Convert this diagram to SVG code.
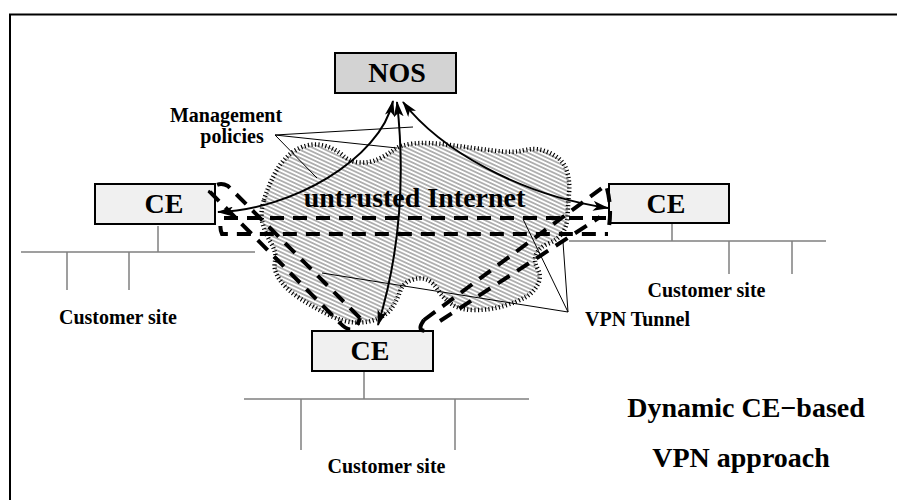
<svg xmlns="http://www.w3.org/2000/svg" width="897" height="500" viewBox="0 0 897 500">
<style>
.t{font-family:"Liberation Serif","Times New Roman",serif;font-weight:bold;fill:#000}
.big{font-size:28px}
.sm{font-size:20px}
.box{stroke:#000;stroke-width:2}
.lan{stroke:#808080;stroke-width:1.5;fill:none}
.ptr{stroke:#000;stroke-width:1;fill:none}
.arr{stroke:#000;stroke-width:2;fill:none;marker-start:url(#ah);marker-end:url(#ah)}
.tun{stroke:#000;stroke-width:4;fill:none;stroke-dasharray:14 9}
</style>
<defs>
<pattern id="hatch" width="8" height="3.6" patternUnits="userSpaceOnUse" patternTransform="rotate(25)">
<line x1="0" y1="1.8" x2="8" y2="1.8" stroke="#000" stroke-width="0.6"/>
</pattern>
<marker id="ah" viewBox="0 0 16 10" refX="15" refY="5" markerWidth="16" markerHeight="10" markerUnits="userSpaceOnUse" orient="auto-start-reverse">
<path d="M0,0 L16,5 L0,10 L4,5 z" fill="#000"/>
</marker>
</defs>
<rect x="0" y="0" width="897" height="500" fill="#fff"/>
<rect x="10" y="14.5" width="900" height="500" fill="none" stroke="#000" stroke-width="2"/>

<g id="cloud">
<path d="M264,200 Q268,187 274,175 Q280,163 288.5,155.5 Q297,148 307,145.5 Q317,143 327,146.5 Q337,150 343.5,156 Q350,162 360,162.5 Q370,163 378.5,159 Q387,155 393.5,150 Q400,145 413.5,143.5 Q427,142 450,145 Q473,148 493,150.5 Q513,153 523,150.5 Q533,148 541.5,150 Q550,152 557.5,157.5 Q565,163 567.5,173 Q570,183 569,194 Q568,205 567.5,216 Q567,227 562,233.5 Q557,240 548.5,243.5 Q540,247 536.5,253.5 Q533,260 537.5,268.5 Q542,277 537.5,285 Q533,293 525,297.5 Q517,302 503.5,306 Q490,310 475,310 Q460,310 451.5,304 Q443,298 438,290 Q433,282 426.5,279.5 Q420,277 411.5,280 Q403,283 400,291.5 Q397,300 392,307.5 Q387,315 377,319 Q367,323 355,322.5 Q343,322 328,314.5 Q313,307 300,298.5 Q287,290 280,280 Q273,270 275,261.5 Q277,253 271,243 Q265,233 262.5,223 Q260,213 264,200 Z" fill="url(#hatch)" stroke="#000" stroke-width="4.5" stroke-dasharray="1.1 2.4"/>
<text class="t big" x="414.5" y="207" text-anchor="middle">untrusted Internet</text>
</g>

<g id="lans">
<path class="lan" d="M21,252 H255 M158,226 V252 M67,252 V290 M129,252 V290"/>
<path class="lan" d="M569,241 H826 M672,224 V241 M729,241 V274 M792,241 V274"/>
<path class="lan" d="M244,399 H529 M364,371 V399 M301,399 V450 M455,399 V450"/>
</g>

<g id="pointers">
<path class="ptr" d="M275,135 L413,127 M275,135 L397,148 M275,135 L317,178"/>
<path class="ptr" d="M568,312 L523,219 M568,312 L563,242 M568,312 L322,273"/>
</g>

<g id="nos">
<rect class="box" x="335" y="53" width="121" height="40" fill="#d3d3d3"/>
<text class="t big" x="397" y="82" text-anchor="middle">NOS</text>
</g>
<g id="ce-left">
<rect class="box" x="95" y="184" width="120" height="40" fill="#f0f0f0"/>
<text class="t big" x="164" y="213" text-anchor="middle">CE</text>
</g>
<g id="ce-right">
<rect class="box" x="609" y="184" width="120" height="39" fill="#f0f0f0"/>
<text class="t big" x="666" y="213" text-anchor="middle">CE</text>
</g>
<g id="ce-bottom">
<rect class="box" x="312" y="331" width="121" height="40" fill="#f0f0f0"/>
<text class="t big" x="370" y="360" text-anchor="middle">CE</text>
</g>

<g id="connectors">
<path class="arr" d="M393,101 C380,160 290,210 218,212"/>
<path class="arr" d="M397,102 Q410,220 378,325"/>
<path class="arr" d="M403,102 C440,150 520,195 608,208"/>
<path class="tun" d="M606,218 L224,218 Q218,224 222,234 L608,234"/>
<path class="tun" d="M360,318 L228,186 Q217,180 210,192 L340,323 Q354,338 360,318"/>
<path class="tun" d="M440,321 L600,217 M424,320 L606,185 Q613,208 608,232 M424,320 Q414,334 432,330"/>
</g>

<g id="labels">
<text class="t sm" x="226" y="122" text-anchor="middle">Management</text>
<text class="t sm" x="232" y="143" text-anchor="middle">policies</text>
<text class="t sm" x="118" y="324" text-anchor="middle">Customer site</text>
<text class="t sm" x="706.5" y="297" text-anchor="middle">Customer site</text>
<text class="t sm" x="637.5" y="326" text-anchor="middle">VPN Tunnel</text>
<text class="t sm" x="386.5" y="473" text-anchor="middle">Customer site</text>
<text class="t big" x="746" y="417" text-anchor="middle">Dynamic CE−based</text>
<text class="t big" x="741" y="467" text-anchor="middle">VPN approach</text>
</g>
</svg>
